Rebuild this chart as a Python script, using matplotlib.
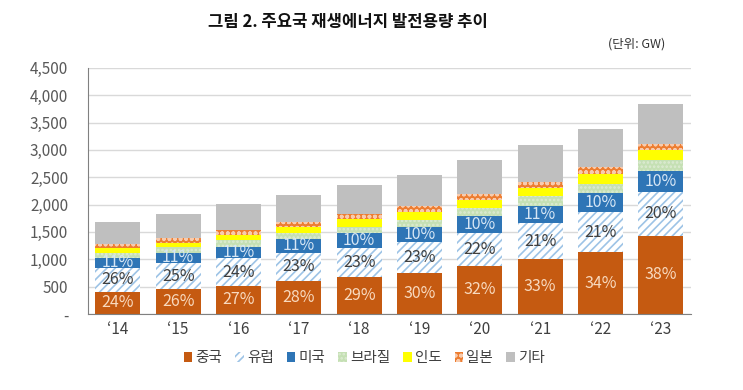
import matplotlib
matplotlib.use('Agg')
import matplotlib.pyplot as plt
import numpy as np

plt.rcParams['font.family'] = ['Noto Sans CJK KR', 'DejaVu Sans']
plt.rcParams['hatch.linewidth'] = 1.2

years = ['‘14', '‘15', '‘16', '‘17', '‘18', '‘19', '‘20', '‘21', '‘22', '‘23']
series_names = ['중국', '유럽', '미국', '브라질', '인도', '일본', '기타']

# capacity in GW
china  = [409, 451, 512, 604, 671, 744, 878, 1007, 1129, 1434]
europe = [427, 476, 506, 519, 543, 580, 610, 653, 732, 793]
usa    = [195, 195, 214, 244, 262, 262, 305, 323, 348, 390]
brazil = [92, 110, 122, 122, 122, 134, 140, 165, 171, 189]
india  = [79, 73, 92, 98, 134, 153, 153, 153, 183, 183]
japan  = [79, 85, 92, 92, 92, 92, 104, 104, 116, 122]
other  = [409, 445, 470, 500, 525, 580, 628, 677, 702, 732]

# share labels printed on the bars
china_pct  = [24, 26, 27, 28, 29, 30, 32, 33, 34, 38]
europe_pct = [26, 25, 24, 23, 23, 23, 22, 21, 21, 20]
usa_pct    = [11, 11, 11, 11, 10, 10, 10, 11, 10, 10]

yticks = [0, 500, 1000, 1500, 2000, 2500, 3000, 3500, 4000, 4500]
ytick_labels = ['-', '500', '1,000', '1,500', '2,000', '2,500', '3,000', '3,500', '4,000', '4,500']

styles = [
    dict(color='#C55A11'),
    dict(facecolor='white', edgecolor='#9DC3E6', hatch='////', linewidth=0),
    dict(color='#2E75B6'),
    dict(facecolor='#C5E0B4', edgecolor='#DDEBD3', hatch='....', linewidth=0),
    dict(color='#FFFF00'),
    dict(facecolor='#ED7D31', edgecolor='#F8CBAD', hatch='ooo', linewidth=0),
    dict(color='#BFBFBF'),
]

fig = plt.figure(figsize=(7.43, 3.9), dpi=100)
ax = fig.add_axes([0.118, 0.195, 0.812, 0.631])

x = np.arange(len(years))
width = 0.75
bottom = np.zeros(len(years))
handles = []
for name, vals, st in zip(series_names, [china, europe, usa, brazil, india, japan, other], styles):
    vals = np.array(vals)
    b = ax.bar(x, vals, width, bottom=bottom, label=name, zorder=2, **st)
    handles.append(b)
    if name == '중국':
        for xi, bt, v, p in zip(x, bottom, vals, china_pct):
            ax.text(xi, bt + v / 2, f'{p}%', ha='center', va='center', fontsize=11.5,
                    color='#F8D9BE', zorder=3)
    elif name == '유럽':
        for xi, bt, v, p in zip(x, bottom, vals, europe_pct):
            ax.text(xi, bt + v / 2, f'{p}%', ha='center', va='center', fontsize=11.5,
                    color='#404040', zorder=3)
    elif name == '미국':
        for xi, bt, v, p in zip(x, bottom, vals, usa_pct):
            ax.text(xi, bt + v / 2, f'{p}%', ha='center', va='center', fontsize=11.5,
                    color='#D6E6F5', zorder=3)
    bottom = bottom + vals

ax.set_xlim(-0.5, len(years) - 0.5)
ax.set_ylim(0, 4500)
ax.set_yticks(yticks)
ax.set_yticklabels(ytick_labels)
ax.set_xticks(x)
ax.set_xticklabels(years)
ax.tick_params(axis='y', length=0, labelsize=11, colors='#595959', pad=14)
ax.tick_params(axis='x', length=0, labelsize=11, colors='#404040', pad=5)
ax.grid(axis='y', color='#D9D9D9', linewidth=1, zorder=0)
for s in ['top', 'right']:
    ax.spines[s].set_visible(False)
ax.spines['left'].set_color('#808080')
ax.spines['bottom'].set_color('#808080')

fig.text(0.468, 0.943, '그림 2. 주요국 재생에너지 발전용량 추이', ha='center', va='center',
         fontsize=12, fontweight='bold', color='#111111')
fig.text(0.895, 0.887, '(단위: GW)', ha='right', va='center', fontsize=9, color='#333333')

fig.legend(handles=handles, labels=series_names, loc='center', bbox_to_anchor=(0.49, 0.082),
           ncol=7, frameon=False, fontsize=10.5, handlelength=0.6, handleheight=0.6,
           handletextpad=0.2, columnspacing=0.9, labelcolor='#404040')

fig.savefig('out.png', dpi=100)
